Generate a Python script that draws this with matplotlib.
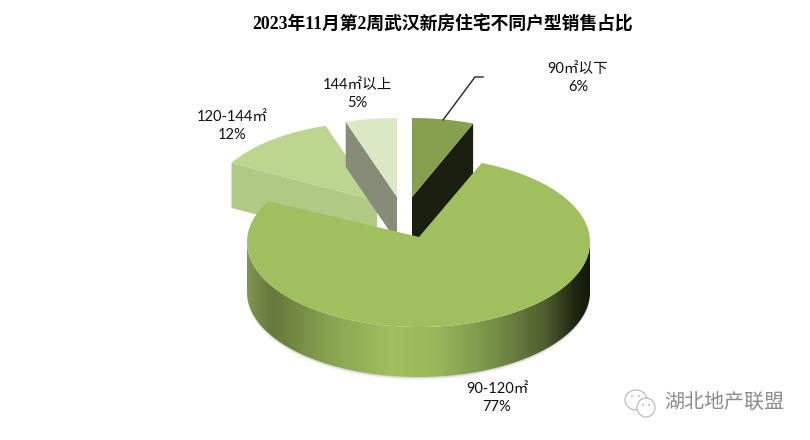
import numpy as np
import matplotlib
matplotlib.use("Agg")
import matplotlib.pyplot as plt
from matplotlib.colors import LinearSegmentedColormap
from matplotlib.patches import Circle, Ellipse, Polygon

title = "2023年11月第2周武汉新房住宅不同户型销售占比"
categories = ["90㎡以下", "90-120㎡", "120-144㎡", "144㎡以上"]
shares = [6, 77, 12, 5]

sans = ["Lato", "Noto Sans CJK SC"]
serif = ["Liberation Serif", "Noto Sans CJK SC"]

fig = plt.figure(figsize=(8.1, 4.4), dpi=100)
ax = fig.add_axes([0, 0, 1, 1])

# slice angles, clockwise from 12 o'clock
edges = np.concatenate([[0], np.cumsum(shares)]) * 3.6


def arc(cx, cy, rx, ry, start, end, n=120):
    t = np.radians(np.linspace(start, end, n))
    return np.column_stack([cx + rx * np.sin(t), cy - ry * np.cos(t)])


def top_face(i, apex, cx, cy, rx, ry, color, z):
    pts = np.vstack([[apex], arc(cx, cy, rx, ry, edges[i], edges[i + 1])])
    ax.add_patch(Polygon(pts, closed=True, fc=color, ec="none", zorder=z))


def cut_face(angle, cx, cy, rx, ry, depth, color, z):
    p = arc(cx, cy, rx, ry, angle, angle, 1)[0]
    pts = [[cx, cy], p, [p[0], p[1] + depth], [cx, cy + depth]]
    ax.add_patch(Polygon(pts, closed=True, fc=color, ec="none", zorder=z))


# the three pulled out slices
cut_face(edges[2], 377, 201, 166, 79, 45, "#b0ca86", 2)
top_face(2, (377, 201), 377, 201, 166, 79, "#bcd58f", 3)
cut_face(edges[3], 397, 197, 166, 79, 45, "#868c78", 4)
top_face(3, (397, 197), 397, 197, 166, 79, "#dbe8c6", 5)
cut_face(edges[1], 412, 197, 166, 79, 52, "#1a1f10", 6)
top_face(0, (412, 197), 412, 197, 166, 79, "#87a04f", 7)

# main slice, front wall with a horizontal gradient
cx, cy, rx, ry, depth = 418.5, 242, 171.5, 85, 50
wall_pts = np.vstack([
    arc(cx, cy, rx, ry, 90, 270),
    arc(cx, cy + depth, rx, ry, 270, 90),
])
# soft shadow under the wall
for off, alpha in [(3, 0.05), (2, 0.08), (1, 0.12)]:
    ax.add_patch(Polygon(wall_pts + [0, off], closed=True, fc="#555555", ec="none",
                         alpha=alpha, zorder=8))
wall = Polygon(wall_pts, closed=True, fc="none", ec="none", zorder=10)
ax.add_patch(wall)
cmap = LinearSegmentedColormap.from_list("wall", [
    (0.00, "#7f9550"), (0.07, "#66783c"), (0.25, "#8aa550"), (0.42, "#a0bf5e"),
    (0.55, "#9ab85a"), (0.72, "#78904a"), (0.87, "#4f5e2e"), (0.96, "#1e2612"),
    (1.00, "#141a0a"),
])
img = ax.imshow(np.linspace(0, 1, 400).reshape(1, -1), cmap=cmap, aspect="auto",
                extent=(cx - rx, cx + rx, cy + ry + depth, cy), zorder=10)
img.set_clip_path(wall)
top_face(1, (419, 237), cx, cy, rx, ry, "#a0bf5e", 11)

# labels
ax.text(443, 24, title, ha="center", va="center", fontsize=12.8,
        fontweight="bold", family=serif, color="#000000")
label_pos = [(578, 78), (497, 398), (232, 126), (357, 94)]
for name, share, (x, y) in zip(categories, shares, label_pos):
    ax.text(x, y, f"{name}\n{share}%", ha="center", va="center", fontsize=10.5,
            family=sans, color="#111111", linespacing=1.35, zorder=20)

# leader line of the small slice
ax.plot([443, 475, 483], [120, 77, 77], color="#222222", lw=1, zorder=20)

# watermark
ax.text(724, 402, "湖北地产联盟", ha="center", va="center", fontsize=14.4,
        family=sans, color="#8c8c8c", zorder=20)
ax.add_patch(Ellipse((636, 400), 22, 20, fc="white", ec="#b5b5b5", lw=0.8, zorder=20))
ax.add_patch(Ellipse((646, 407.5), 18, 19, fc="white", ec="#b5b5b5", lw=0.8, zorder=21))
for ex, ey in [(632, 396), (639, 396), (643, 405), (649, 405)]:
    ax.add_patch(Circle((ex, ey), 0.9, fc="#b5b5b5", ec="none", zorder=22))

ax.set_xlim(0, 810)
ax.set_ylim(440, 0)
ax.axis("off")
fig.savefig("out.png", dpi=100, facecolor="white")
